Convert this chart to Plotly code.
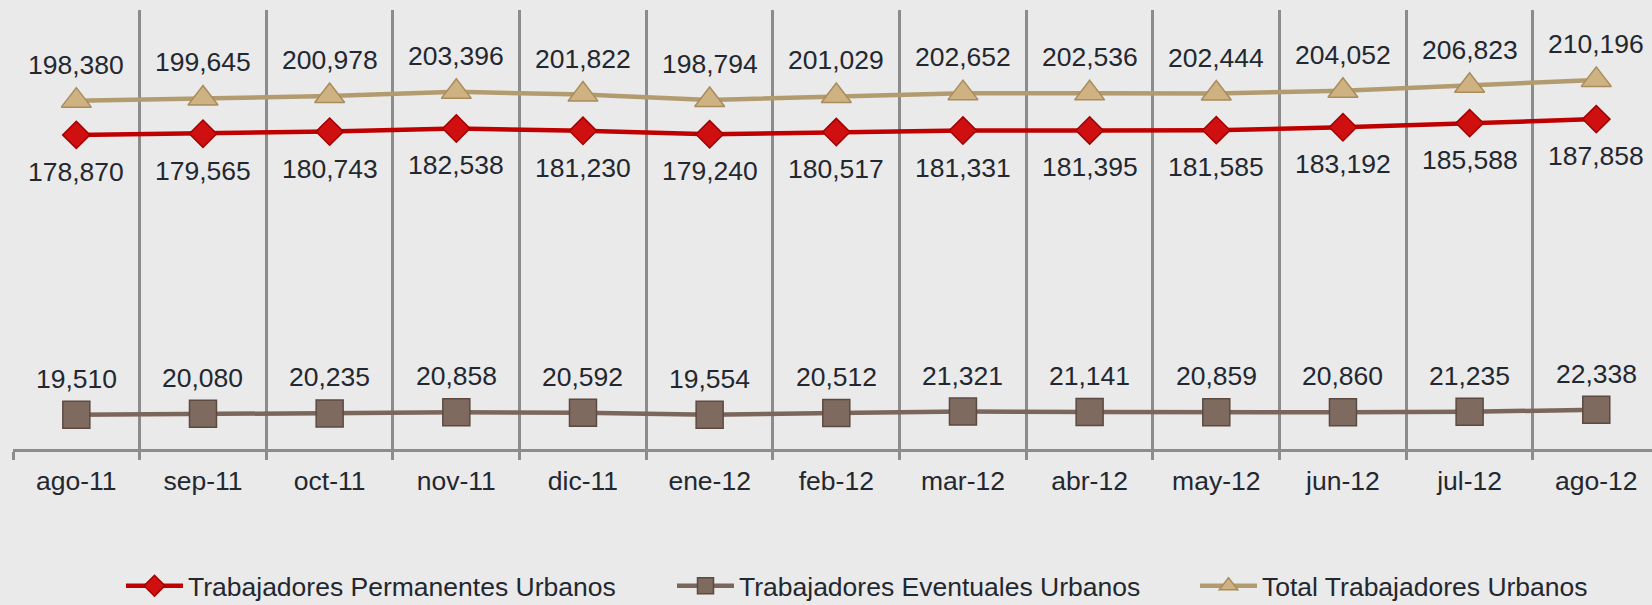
import plotly.graph_objects as go

months = ["ago-11", "sep-11", "oct-11", "nov-11", "dic-11", "ene-12", "feb-12",
          "mar-12", "abr-12", "may-12", "jun-12", "jul-12", "ago-12"]
permanentes = [178870, 179565, 180743, 182538, 181230, 179240, 180517,
               181331, 181395, 181585, 183192, 185588, 187858]
eventuales = [19510, 20080, 20235, 20858, 20592, 19554, 20512,
              21321, 21141, 20859, 20860, 21235, 22338]
total = [198380, 199645, 200978, 203396, 201822, 198794, 201029,
         202652, 202536, 202444, 204052, 206823, 210196]

names = ["Trabajadores Permanentes Urbanos", "Trabajadores Eventuales Urbanos",
         "Total Trabajadores Urbanos"]

FONT = "Liberation Sans, Arial, sans-serif"
TXT = "#23272f"
FS = 26.5
W, H = 1652, 605

fig = go.Figure()
fig.add_trace(go.Scatter(
    x=months, y=permanentes, name=names[0], mode="lines+markers", legend="legend",
    line=dict(color="#c00000", width=4.5),
    marker=dict(symbol="diamond", size=21, color="#d01010",
                line=dict(color="#a00000", width=1.5)),
))
fig.add_trace(go.Scatter(
    x=months, y=eventuales, name=names[1], mode="lines+markers", legend="legend2",
    line=dict(color="#7b665b", width=4.5),
    marker=dict(symbol="square", size=27, color="#7f6a60",
                line=dict(color="#5c4a42", width=1.5)),
))
fig.add_trace(go.Scatter(
    x=months, y=total, name=names[2], mode="lines+markers", legend="legend3",
    line=dict(color="#b39b70", width=4.5),
    marker=dict(symbol="triangle-up", size=26, color="#cfb282",
                line=dict(color="#a88c5c", width=1.5)),
))

annotations = []
for series, shift in ((permanentes, -37), (eventuales, 36), (total, 36)):
    for m, v in zip(months, series):
        annotations.append(dict(
            x=m, y=v, text=f"{v:,}", showarrow=False, yshift=shift,
            xanchor="center", yanchor="middle",
            font=dict(family=FONT, size=FS, color=TXT),
        ))

def leg(xpx):
    return dict(orientation="h", xref="container", yref="container",
                x=xpx / W, y=19 / H, xanchor="left", yanchor="middle",
                itemwidth=57,
                font=dict(family=FONT, size=FS, color=TXT),
                bgcolor="rgba(0,0,0,0)")

fig.update_layout(
    width=W, height=H,
    margin=dict(l=13, r=0, t=10, b=156),
    paper_bgcolor="#eaeaea", plot_bgcolor="#eaeaea",
    font=dict(family=FONT, size=FS, color=TXT),
    showlegend=True,
    annotations=annotations,
    legend=leg(121), legend2=leg(672), legend3=leg(1195),
)
fig.update_xaxes(
    type="category", range=[-0.5, 12.44], tickson="boundaries",
    showgrid=True, gridcolor="#8c8c8c", gridwidth=2.5,
    showline=True, linecolor="#8c8c8c", linewidth=3,
    ticks="outside", ticklen=8, tickcolor="#8c8c8c", tickwidth=2.5,
    ticklabelstandoff=6,
    tickfont=dict(family=FONT, size=FS, color=TXT), zeroline=False,
)
fig.update_yaxes(
    range=[0, 250000], showgrid=False, showticklabels=False, zeroline=False,
    showline=False, ticks="",
)

fig.write_html("out.html", config={"displayModeBar": False},
               post_script="document.body.style.margin='0px';document.body.style.overflow='hidden';")
